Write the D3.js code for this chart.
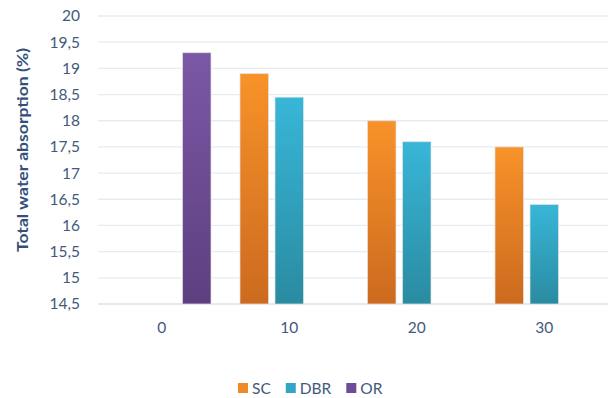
<!DOCTYPE html>
<html>
<head>
<meta charset="utf-8">
<script src="https://cdn.jsdelivr.net/npm/d3@7"></script>
<style>
  html, body { margin: 0; padding: 0; background: #fff; }
  svg { display: block; font-family: Lato, "Open Sans", sans-serif; }
</style>
</head>
<body>
<svg id="chart" width="611" height="398"></svg>
<script>
// Replacement level (%) on the x axis
const categories = ["0", "10", "20", "30"];
const seriesNames = ["SC", "DBR", "OR"];
// Total water absorption (%) per series; null = no bar for that level
const scValues  = [null, 18.9, 18.0, 17.5];
const dbrValues = [null, 18.45, 17.6, 16.4];
const orValues  = [19.3, null, null, null];
const yTickValues = [14.5, 15, 15.5, 16, 16.5, 17, 17.5, 18, 18.5, 19, 19.5, 20];

const seriesValues = { SC: scValues, DBR: dbrValues, OR: orValues };
const gradientStops = {
  SC:  ["#f89229", "#cc6a1f"],
  DBR: ["#38b6d8", "#2a8ba1"],
  OR:  ["#7b58a5", "#5e3f80"]
};
const legendColors = { SC: "#ef8a2a", DBR: "#32a6c4", OR: "#6e4c96" };
const textColor = "#44597a";

const svg = d3.select("#chart");
const plot = { left: 98, right: 608, top: 16, bottom: 304 };

const x0 = d3.scaleBand().domain(categories).range([plot.left, plot.right]);
const x1 = d3.scaleBand().domain(seriesNames)
  .range([0, x0.bandwidth()])
  .paddingInner(0.186)
  .paddingOuter(0.414);
const y = d3.scaleLinear().domain([14.5, 20]).range([plot.bottom, plot.top]);

// gradients for the bar fills
const defs = svg.append("defs");
seriesNames.forEach(name => {
  const g = defs.append("linearGradient")
    .attr("id", "grad-" + name)
    .attr("x1", 0).attr("y1", 0).attr("x2", 0).attr("y2", 1);
  g.append("stop").attr("offset", "0%").attr("stop-color", gradientStops[name][0]);
  g.append("stop").attr("offset", "100%").attr("stop-color", gradientStops[name][1]);
});

// horizontal gridlines
svg.append("g")
  .selectAll("line")
  .data(yTickValues)
  .join("line")
  .attr("x1", plot.left).attr("x2", plot.right)
  .attr("y1", d => y(d)).attr("y2", d => y(d))
  .attr("stroke", d => d === 14.5 ? "#dde3ee" : "#e6ebf4")
  .attr("stroke-width", 1.3);

// y axis labels (comma decimals)
const yAxis = svg.append("g")
  .attr("transform", `translate(${plot.left},0)`)
  .call(d3.axisLeft(y).tickValues(yTickValues).tickSize(0).tickPadding(18)
    .tickFormat(d => String(d).replace(".", ",")));
yAxis.select(".domain").remove();
yAxis.selectAll("text")
  .attr("fill", textColor)
  .style("font-size", "15.5px")
  .style("font-family", "Lato, 'Open Sans', sans-serif");

// x axis labels
const xAxis = svg.append("g")
  .attr("transform", `translate(0,${plot.bottom})`)
  .call(d3.axisBottom(x0).tickSize(0).tickPadding(18));
xAxis.select(".domain").remove();
xAxis.selectAll("text")
  .attr("fill", textColor)
  .style("font-size", "15.5px")
  .style("font-family", "Lato, 'Open Sans', sans-serif");

// bars
const barData = [];
categories.forEach((c, i) => {
  seriesNames.forEach(s => {
    const v = seriesValues[s][i];
    if (v != null) barData.push({ category: c, series: s, value: v });
  });
});

svg.append("g")
  .selectAll("rect")
  .data(barData)
  .join("rect")
  .attr("x", d => x0(d.category) + x1(d.series))
  .attr("width", x1.bandwidth())
  .attr("y", d => y(d.value))
  .attr("height", d => y(14.5) - y(d.value))
  .attr("fill", d => `url(#grad-${d.series})`)
  .attr("stroke", "#e4e4e4")
  .attr("stroke-width", 1)
  .attr("stroke-opacity", 0.7);

// y axis title
svg.append("text")
  .attr("transform", "translate(22,150) rotate(-90)")
  .attr("text-anchor", "middle")
  .attr("dominant-baseline", "central")
  .attr("fill", "#34507a")
  .attr("textLength", 204)
  .attr("lengthAdjust", "spacingAndGlyphs")
  .style("font-size", "15.5px")
  .style("font-weight", "bold")
  .text("Total water absorption (%)");

// legend
const legend = svg.append("g");
let lx = 238;
const ly = 388;
seriesNames.forEach(name => {
  legend.append("rect")
    .attr("x", lx).attr("y", ly - 5)
    .attr("width", 10).attr("height", 10)
    .attr("fill", legendColors[name]);
  const t = legend.append("text")
    .attr("x", lx + 14).attr("y", ly)
    .attr("dominant-baseline", "central")
    .attr("fill", textColor)
    .style("font-size", "15.5px")
    .text(name);
  lx += 14 + t.node().getComputedTextLength() + 15;
});
</script>
</body>
</html>
